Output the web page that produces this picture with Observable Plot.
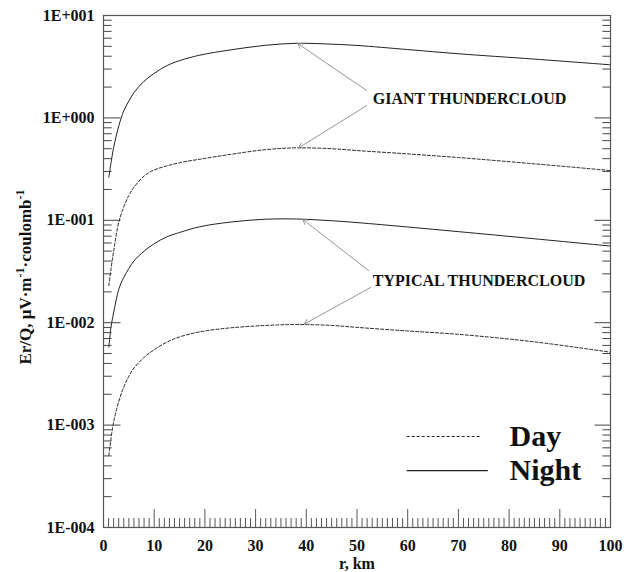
<!DOCTYPE html>
<html>
<head>
<meta charset="utf-8">
<script src="https://cdn.jsdelivr.net/npm/d3@7"></script>
<script src="https://cdn.jsdelivr.net/npm/@observablehq/plot@0.6"></script>
<style>
  body { margin: 0; background: white; }
</style>
</head>
<body>
<div id="chart"></div>
<script>
// distance r, km
const r = [1.05, 1.5, 2, 3, 4, 5, 6, 8, 10, 12.5, 15, 19, 25, 32, 38, 45, 50, 60, 70, 85, 100];
// Er/Q values
const giantNight   = [0.264, 0.368, 0.513, 0.83, 1.17, 1.46, 1.76, 2.28, 2.72, 3.24, 3.62, 4.1, 4.61, 5.12, 5.35, 5.25, 5.1, 4.65, 4.23, 3.75, 3.3];
const giantDay     = [0.023, 0.034, 0.05, 0.095, 0.135, 0.175, 0.21, 0.27, 0.31, 0.34, 0.365, 0.395, 0.44, 0.49, 0.51, 0.5, 0.48, 0.445, 0.41, 0.356, 0.306];
const typicalNight = [0.00577, 0.0092, 0.0125, 0.0211, 0.0277, 0.0338, 0.04, 0.05, 0.059, 0.069, 0.076, 0.0865, 0.096, 0.1025, 0.103, 0.099, 0.095, 0.086, 0.0775, 0.066, 0.056];
const typicalDay   = [0.000505, 0.00075, 0.00107, 0.0017, 0.00235, 0.003, 0.0036, 0.00458, 0.00545, 0.00646, 0.00726, 0.00814, 0.0089, 0.0094, 0.0096, 0.0094, 0.009, 0.0083, 0.0077, 0.0065, 0.00515];

const xMajor = d3.range(0, 101, 10);
const xMinor = d3.range(0, 101, 1).filter(d => d % 10 !== 0);
const yMajor = [1e-4, 1e-3, 1e-2, 1e-1, 1, 10];
const yMinor = yMajor.slice(0, -1).flatMap(d => d3.range(2, 10).map(k => k * d));

const fmtE = d => {
  const e = Math.round(Math.log10(d));
  return "1E" + (e >= 0 ? "+" : "-") + String(Math.abs(e)).padStart(3, "0");
};

const series = [
  {name: "Giant night", values: giantNight, dash: null},
  {name: "Giant day", values: giantDay, dash: "3,2"},
  {name: "Typical night", values: typicalNight, dash: null},
  {name: "Typical day", values: typicalDay, dash: "3,2"}
];

// annotations (data space)
const labels = [
  {text: "GIANT THUNDERCLOUD", x: 53.1, y: 1.55},
  {text: "TYPICAL THUNDERCLOUD", x: 53.1, y: 0.0258}
];
const arrows = [
  {x1: 51.9, y1: 1.85, x2: 38.3, y2: 5.33},
  {x1: 51.9, y1: 1.32, x2: 38.5, y2: 0.51},
  {x1: 52.3, y1: 0.0323, x2: 39.3, y2: 0.102},
  {x1: 52.7, y1: 0.0221, x2: 39.6, y2: 0.0097}
];
const legendDay   = [{label: "Day", x1: 59.8, x2: 74.4, y: 0.000774, tx: 80.1}];
const legendNight = [{label: "Night", x1: 59.8, x2: 75.8, y: 0.000360, tx: 80.1}];

// inward y tick lengths expressed in x units (1 unit ≈ 5.07 px)
const tickMajorL = 3.35, tickMinorL = 1.6, tickMajorR = 3.15;
const yTickSegs = [
  ...yMajor.map(v => ({y: v, x1: 0, x2: tickMajorL})),
  ...yMinor.map(v => ({y: v, x1: 0, x2: tickMinorL})),
  ...yMajor.map(v => ({y: v, x1: 100 - tickMajorR, x2: 100})),
  ...yMinor.map(v => ({y: v, x1: 100 - tickMinorL, x2: 100}))
];

const marks = [];
for (const s of series) {
  marks.push(Plot.line(r.map((x, i) => ({x, y: s.values[i]})), {
    x: "x", y: "y", curve: "catmull-rom", stroke: "#222", strokeWidth: 1,
    strokeDasharray: s.dash
  }));
}
marks.push(
  Plot.arrow(arrows, {x1: "x1", y1: "y1", x2: "x2", y2: "y2", bend: 0,
    stroke: "#888", strokeWidth: 0.9, headLength: 9}),
  Plot.text(labels, {x: "x", y: "y", text: "text", textAnchor: "start",
    fontSize: 16, fontWeight: "bold", fill: "#111"}),
  Plot.link(legendDay, {x1: "x1", x2: "x2", y1: "y", y2: "y", stroke: "#222",
    strokeWidth: 1, strokeDasharray: "3,2"}),
  Plot.link(legendNight, {x1: "x1", x2: "x2", y1: "y", y2: "y", stroke: "#222",
    strokeWidth: 1.2}),
  Plot.text([...legendDay, ...legendNight], {x: "tx", y: "y", text: "label", textAnchor: "start",
    fontSize: 30, fontWeight: "bold", fill: "#111"}),
  // x inward ticks
  Plot.axisX({ticks: xMajor, tickSize: -18, tickFormat: () => "", stroke: "#555", label: null}),
  Plot.axisX({ticks: xMinor, tickSize: -9, tickFormat: () => "", stroke: "#555", label: null}),
  Plot.axisX({ticks: xMajor, tickSize: 0, tickPadding: 12, tickFormat: d => String(d),
    label: null, fill: "#111"}),
  Plot.text(["r, km"], {frameAnchor: "bottom", dy: 41, lineAnchor: "bottom", text: d => d,
    fontSize: 16, fontWeight: "bold", fill: "#111"}),
  // y inward ticks, left and right
  Plot.link(yTickSegs, {x1: "x1", x2: "x2", y1: "y", y2: "y", stroke: "#444", strokeWidth: 1}),
  Plot.axisY({ticks: yMajor, tickSize: 0, tickPadding: 9, tickFormat: fmtE, label: null, fill: "#111"}),
  Plot.frame({stroke: "#555", strokeWidth: 1.2})
);

const chart = Plot.plot({
  width: 635,
  height: 572,
  marginLeft: 103,
  marginRight: 25,
  marginTop: 15,
  marginBottom: 45,
  style: {
    fontFamily: "'Liberation Serif', 'Times New Roman', serif",
    fontWeight: "bold",
    fontSize: "16px",
    background: "white",
    color: "#111"
  },
  x: {domain: [0, 100]},
  y: {type: "log", domain: [1e-4, 10]},
  marks
});

// y-axis title with superscripts
const t = d3.select(chart).append("text")
  .attr("transform", "translate(31,277) rotate(-90)")
  .attr("text-anchor", "middle")
  .attr("fill", "#111")
  .style("font-size", "17px")
  .style("font-weight", "bold");
t.append("tspan").text("Er/Q, μV·m");
t.append("tspan").attr("dy", -7).style("font-size", "12px").text("-1");
t.append("tspan").attr("dy", 7).text("·coulomb");
t.append("tspan").attr("dy", -7).style("font-size", "12px").text("-1");

document.getElementById("chart").appendChild(chart);
</script>
</body>
</html>
